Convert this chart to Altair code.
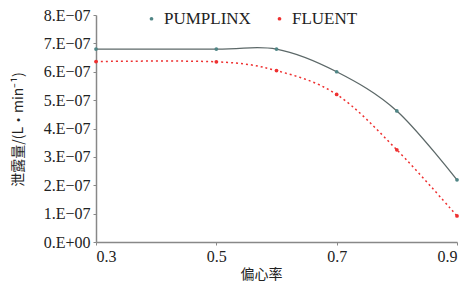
import altair as alt
import pandas as pd

x_vals = [0.3, 0.5, 0.6, 0.7, 0.8, 0.9]
pumplinx = [6.8e-07, 6.8e-07, 6.8e-07, 6.0e-07, 4.62e-07, 2.19e-07]
fluent = [6.36e-07, 6.35e-07, 6.04e-07, 5.2e-07, 3.25e-07, 0.92e-07]
series = ["PUMPLINX", "FLUENT"]

rows = []
for s, vals in zip(series, [pumplinx, fluent]):
    for x, v in zip(x_vals, vals):
        rows.append({"x": x, "v": v, "s": s})
df = pd.DataFrame(rows)

serif = "'Liberation Serif', 'Times New Roman', 'DejaVu Serif', serif"
cjk = "Noto Sans CJK SC"

xenc = alt.X("x:Q", scale=alt.Scale(domain=[0.3, 0.9], nice=False, zero=False),
             axis=alt.Axis(values=[0.3, 0.5, 0.7, 0.9], format=".1f", title="偏心率",
                           titleFont=cjk, titleFontSize=14, titleFontWeight="normal",
                           titleColor="#222", titleX=165, titlePadding=3,
                           labelFont=serif, labelFontSize=16, labelColor="#222",
                           grid=False, tickSize=3, tickColor="#888",
                           domainColor="#888", domainWidth=1.5, labelPadding=3))
yenc = alt.Y("v:Q", scale=alt.Scale(domain=[0, 8e-07], nice=False),
             axis=alt.Axis(values=[i * 1e-07 for i in range(9)],
                           labelExpr="datum.value == 0 ? '0.E+00' : format(datum.value*1e7, '.0f') + '.E\u221207'",
                           title="泄露量/(L·min⁻¹)", titleFont=cjk, titleFontSize=14,
                           titleFontWeight="normal", titleColor="#222",
                           titleX=-78, titleY=114, titleAlign="center", titleBaseline="middle",
                           labelFont=serif, labelFontSize=16, labelColor="#222",
                           grid=False, tickSize=3, tickColor="#888",
                           domainColor="#888", domainWidth=1.5, labelPadding=3))

color = alt.Color("s:N", scale=alt.Scale(domain=series, range=["#4f8585", "#ee3030"]),
                  legend=alt.Legend(title=None, orient="none", direction="horizontal",
                                    legendX=47, legendY=-5, labelFont=serif, labelFontSize=17,
                                    labelColor="#222", symbolType="circle", symbolSize=14,
                                    columnPadding=20, labelOffset=4, symbolStrokeWidth=0))

base = alt.Chart(df)

line_p = base.transform_filter(alt.datum.s == "PUMPLINX").mark_line(
    interpolate="cardinal", color="#5c6868", strokeWidth=1.3).encode(x=xenc, y=yenc)
line_f = base.transform_filter(alt.datum.s == "FLUENT").mark_line(
    interpolate="cardinal", color="#ee3030", strokeWidth=1.5, strokeDash=[2, 3]).encode(x=xenc, y=yenc)
pts = base.mark_point(filled=True, shape="circle", size=14, opacity=1).encode(x=xenc, y=yenc, color=color)

chart = alt.layer(line_p, line_f, pts).properties(
    width=361, height=227,
    autosize=alt.AutoSizeParams(type="none"),
    padding={"left": 88, "top": 7, "right": 10, "bottom": 46},
).configure_view(stroke=None)

chart.save("out.html", embed_options={"renderer": "svg", "actions": False})
